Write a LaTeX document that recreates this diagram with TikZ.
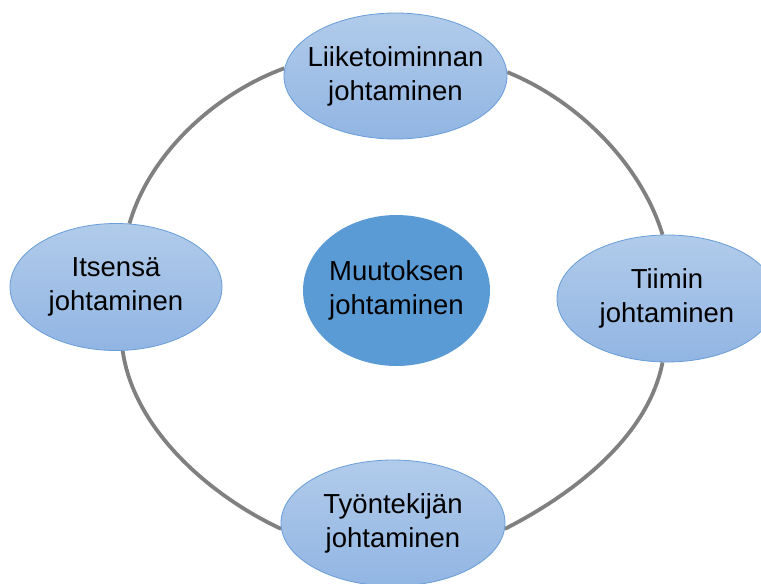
\documentclass[tikz,border=0pt]{standalone}
\usepackage{fontspec}
\setmainfont{Liberation Sans}
\usetikzlibrary{shapes.geometric,backgrounds}
\definecolor{satTop}{RGB}{177,203,234}
\definecolor{satBot}{RGB}{145,181,227}
\definecolor{satLine}{RGB}{104,157,215}
\definecolor{hubFill}{RGB}{91,155,213}
\definecolor{arcGray}{RGB}{128,128,128}
\begin{document}
\begin{tikzpicture}[x=1pt,y=1pt,
  sat/.style={ellipse, top color=satTop, bottom color=satBot, draw=satLine, line width=0.8pt,
    inner xsep=-20pt, inner ysep=0pt, align=center, font=\fontsize{27.5}{34}\selectfont},
  hub/.style={ellipse, fill=hubFill, inner xsep=-20pt, inner ysep=0pt, align=center,
    font=\fontsize{27.5}{34}\selectfont},
  conn/.style={draw=arcGray, line width=3.8pt}]
\useasboundingbox (0,0) rectangle (761,-584);
\node[sat, minimum width=223pt, minimum height=126pt] (lead) at (395.5,-76) {Liiketoiminnan\\johtaminen};
\node[sat, minimum width=212pt, minimum height=127pt] (self) at (116,-287) {Itsensä\\johtaminen};
\node[sat, minimum width=220pt, minimum height=127pt] (team) at (667,-298.5) {Tiimin\\johtaminen};
\node[sat, minimum width=224pt, minimum height=126pt] (emp) at (393,-523) {Työntekijän\\johtaminen};
\node[hub, minimum width=187pt, minimum height=151pt] (change) at (396.5,-290.5) {Muutoksen\\johtaminen};
\begin{scope}[on background layer]
\draw[conn] (lead.176) to[out=200,in=74,looseness=0.85] (self.78);
\draw[conn] (lead.2) to[out=338,in=107,looseness=0.85] (team.94);
\draw[conn] (self.276) to[out=278,in=155,looseness=0.85] (emp.183);
\draw[conn] (team.266) to[out=259,in=27,looseness=0.85] (emp.357);
\end{scope}
\end{tikzpicture}
\end{document}
